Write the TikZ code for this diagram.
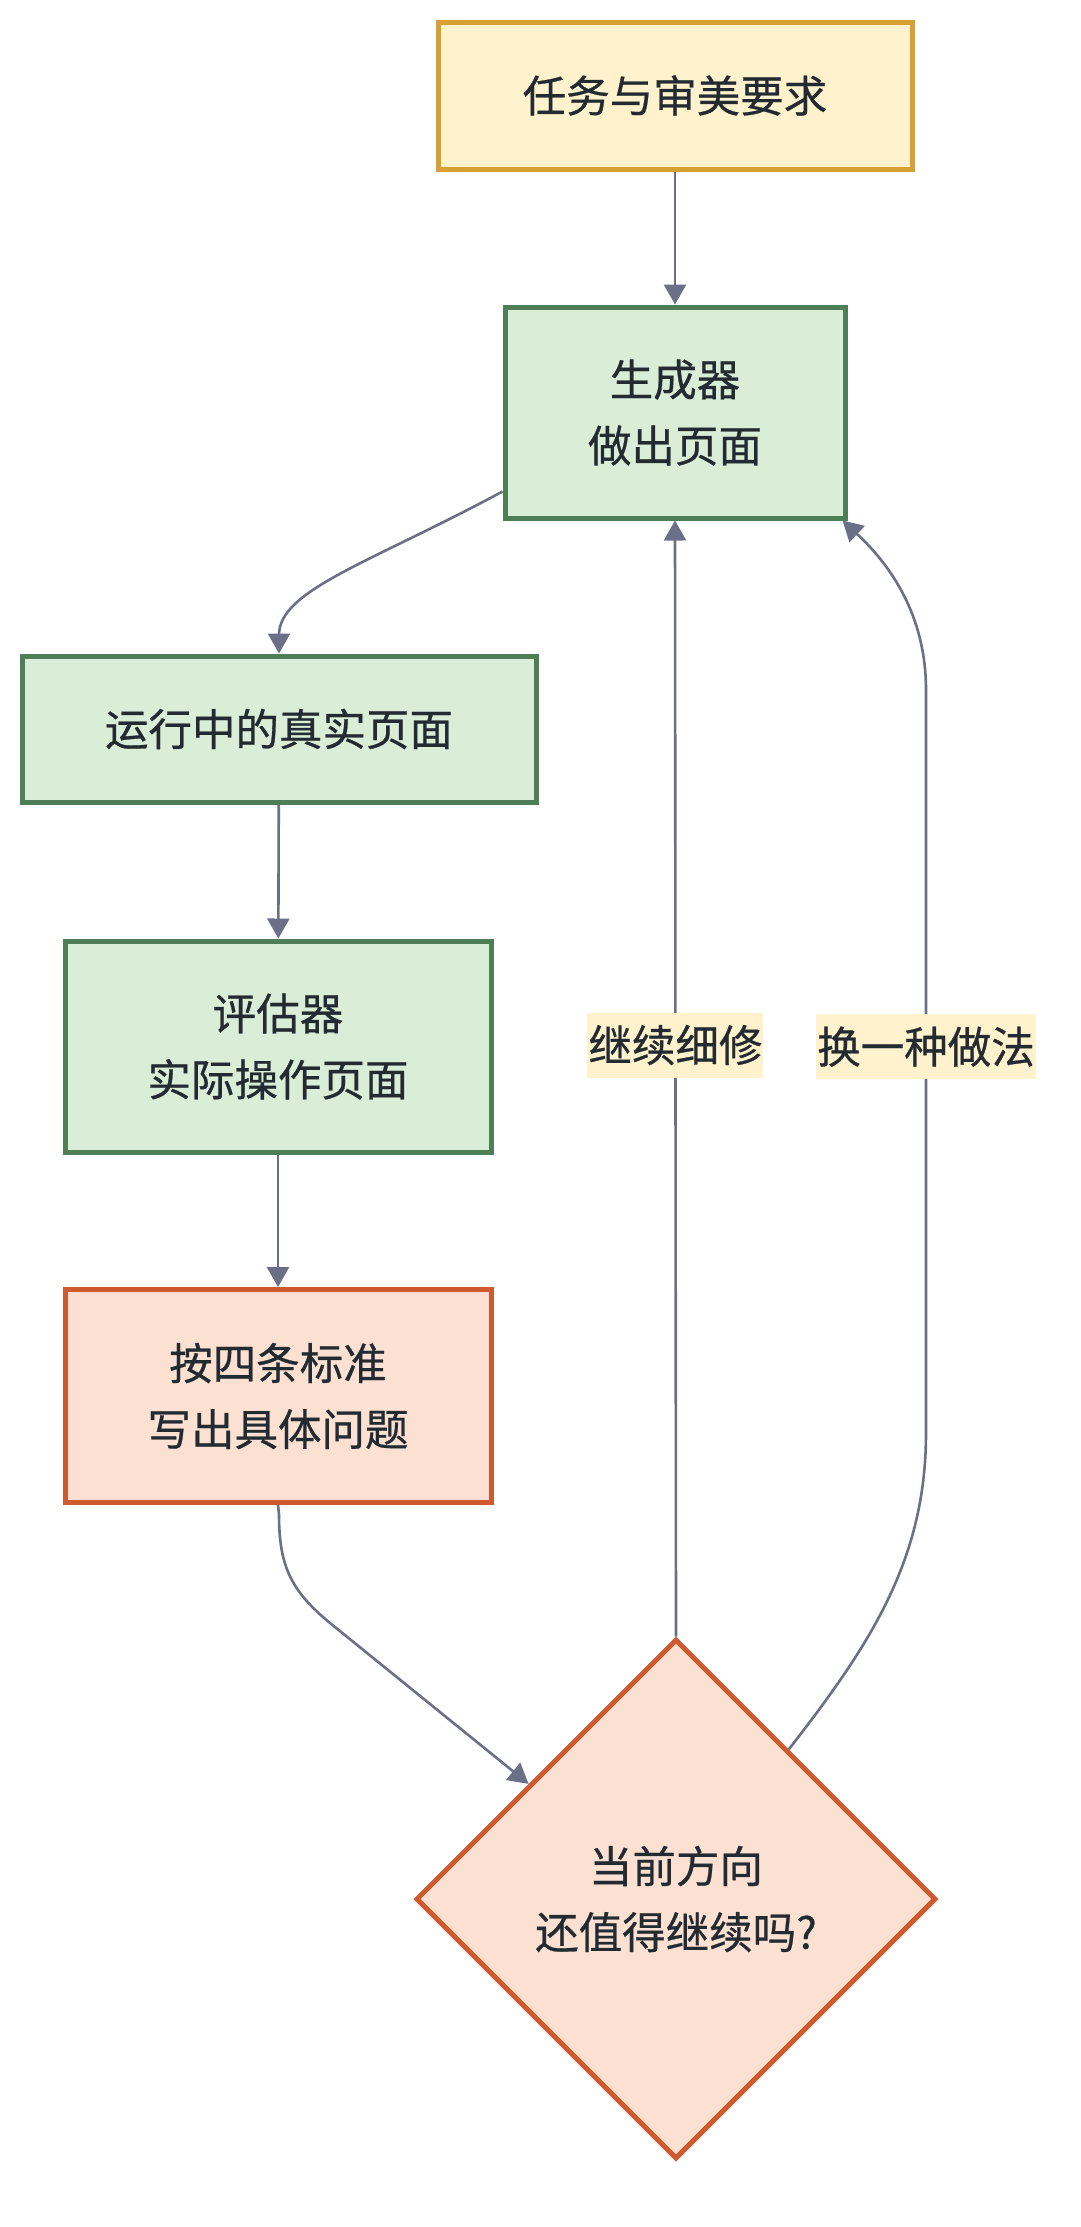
\documentclass[tikz,border=0pt]{standalone}
\usepackage{fontspec}
\setmainfont[FakeBold=0.6]{Noto Sans CJK SC}
\usetikzlibrary{shapes.geometric,arrows.meta,calc}
\definecolor{ylwfill}{HTML}{FFF2CC}
\definecolor{ylwdraw}{HTML}{D6A032}
\definecolor{grnfill}{HTML}{DAEDD6}
\definecolor{grndraw}{HTML}{4E7E56}
\definecolor{orgfill}{HTML}{FCE1D2}
\definecolor{orgdraw}{HTML}{CF5A2F}
\definecolor{edgecol}{HTML}{6B7088}
\definecolor{txtcol}{HTML}{222B31}
\begin{document}
\begin{tikzpicture}[x=1pt,y=-1pt,
  base/.style={font=\fontsize{43.5pt}{66pt}\selectfont, text=txtcol, align=center, inner sep=0pt, line width=5pt},
  ybox/.style={base, rectangle, draw=ylwdraw, fill=ylwfill},
  gbox/.style={base, rectangle, draw=grndraw, fill=grnfill},
  obox/.style={base, rectangle, draw=orgdraw, fill=orgfill},
  odia/.style={base, diamond, aspect=1, draw=orgdraw, fill=orgfill, minimum width=520pt, minimum height=520pt},
  conn/.style={draw=edgecol, line width=2.6pt, -{Triangle[length=20pt,width=22pt]}},
  elabel/.style={font=\fontsize{43.5pt}{66pt}\selectfont, text=txtcol, fill=ylwfill, inner xsep=1pt, inner ysep=0pt, minimum height=65pt, text height=38.3pt, text depth=5.2pt}
]
\useasboundingbox[fill=white] (0,0) rectangle (1080,2227);

\node[ybox, minimum width=474pt, minimum height=147pt] (b1) at (675,95.5) {任务与审美要求};
\node[gbox, minimum width=340pt, minimum height=211pt] (b2) at (675,412.5) {生成器\\做出页面};
\node[gbox, minimum width=514pt, minimum height=146pt] (b3) at (279,729) {运行中的真实页面};
\node[gbox, minimum width=426pt, minimum height=211pt] (b4) at (278,1046.5) {评估器\\实际操作页面};
\node[obox, minimum width=426pt, minimum height=213pt] (b5) at (278,1396) {按四条标准\\写出具体问题};
\node[odia] (dia) at (676,1899) {当前方向\\还值得继续吗?};

\draw[conn] (b1) -- (b2);
\draw[conn] ([yshift=29pt]b2.south west) .. controls (370,563) and (279,590) .. (279,635) -- (b3.north);
\draw[conn] (b3) -- (b4);
\draw[conn] (b4) -- (b5);
\draw[conn] (b5.south) -- (279,1514) .. controls (279,1565) and (290,1590) .. (330,1623) -- (dia.142);
\draw[conn] (dia.north) -- node[elabel, pos=0.53] (l1) {继续细修} (b2.south);
\draw[conn] (dia.53) .. controls (870,1645) and (926,1560) .. (926,1433)
  -- node[elabel, pos=0.52] (l2) {换一种做法} (926,690)
  .. controls (926,610) and (885,560) .. ([xshift=-5pt]b2.south east);
\end{tikzpicture}
\end{document}
